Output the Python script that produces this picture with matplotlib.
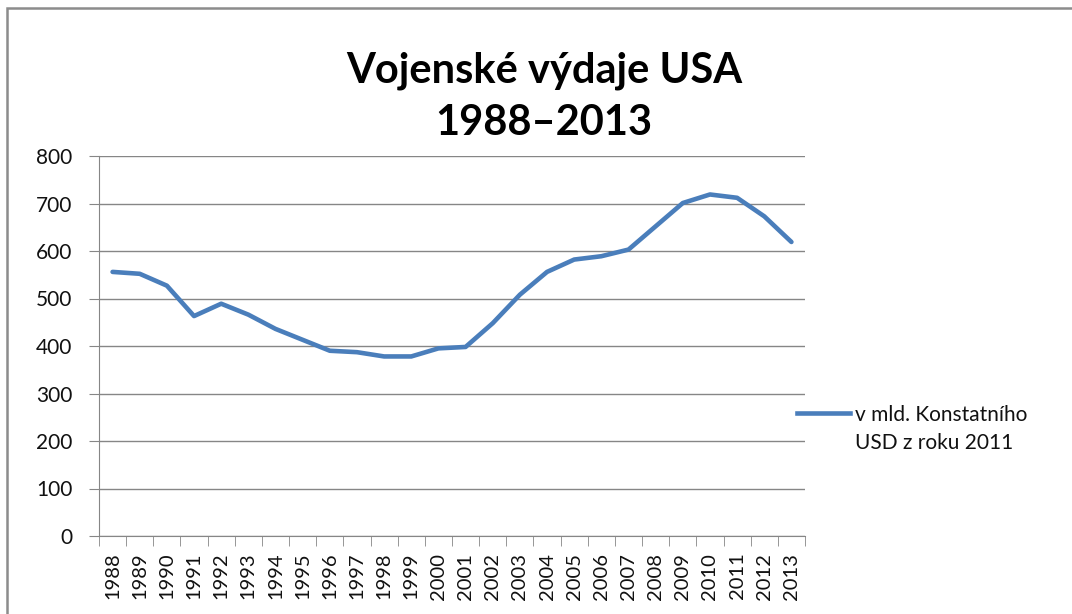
import numpy as np
import matplotlib
matplotlib.use("Agg")
import matplotlib.pyplot as plt
from matplotlib.patches import Rectangle
from matplotlib.lines import Line2D

years = list(range(1988, 2014))
spending = [556, 552, 527, 463, 489, 466, 436, 413, 390, 387, 378, 378,
            395, 398, 448, 508, 556, 582, 589, 603, 652, 701, 719, 712, 673, 619]
yticks = [0, 100, 200, 300, 400, 500, 600, 700, 800]
series_label = "v mld. Konstatního\nUSD z roku 2011"
title = "Vojenské výdaje USA\n1988\u20132013"

plt.rcParams["font.family"] = ["Lato", "DejaVu Sans"]
GRID = "#868686"
BLUE = "#4A7EBB"
TXT = "#111111"

fig = plt.figure(figsize=(10.72, 6.14), dpi=100)
fig.patch.set_facecolor("white")
ax = fig.add_axes([99 / 1072, 1 - 536 / 614, (805 - 99) / 1072, (536 - 156) / 614])

x = np.arange(len(years))
ax.plot(x, spending, color=BLUE, lw=3.3, solid_capstyle="round", solid_joinstyle="round", zorder=3)

ax.set_xlim(-0.5, len(years) - 0.5)
ax.set_ylim(0, 800)
ax.set_yticks(yticks)
ax.set_yticklabels([str(v) for v in yticks], fontsize=15, color=TXT)
ax.yaxis.grid(True, color=GRID, lw=1.0)
ax.set_axisbelow(True)

ax.set_xticks(x)
ax.set_xticklabels([str(y) for y in years], rotation=90, fontsize=14.5, color=TXT)
ax.set_xticks(np.arange(len(years) + 1) - 0.5, minor=True)
ax.tick_params(axis="x", which="major", length=0, pad=12)
ax.tick_params(axis="x", which="minor", length=7, color=GRID, direction="out")
ax.tick_params(axis="y", length=7, color=GRID, direction="out", pad=12)

ax.spines[["top", "right"]].set_visible(False)
ax.spines["left"].set_color(GRID)
ax.spines["bottom"].set_color(GRID)

fig.text(544 / 1072, 1 - 97 / 614, title, ha="center", va="center",
         fontsize=30, fontweight="bold", color="black", linespacing=1.45)

# legend on the right
fig.add_artist(Line2D([797 / 1072, 850 / 1072], [1 - 413 / 614] * 2, color=BLUE, lw=3.3))
fig.text(855 / 1072, 1 - 429 / 614, series_label, ha="left", va="center",
         fontsize=15, color=TXT, linespacing=1.55)

# outer chart frame
fig.add_artist(Rectangle((7 / 1072, -0.1), 1.2, 1 - 8 / 614 + 0.1, transform=fig.transFigure,
                         fill=False, edgecolor="#8c8c8c", lw=1.8, clip_on=False))

fig.savefig("out.png", dpi=100, facecolor="white")
